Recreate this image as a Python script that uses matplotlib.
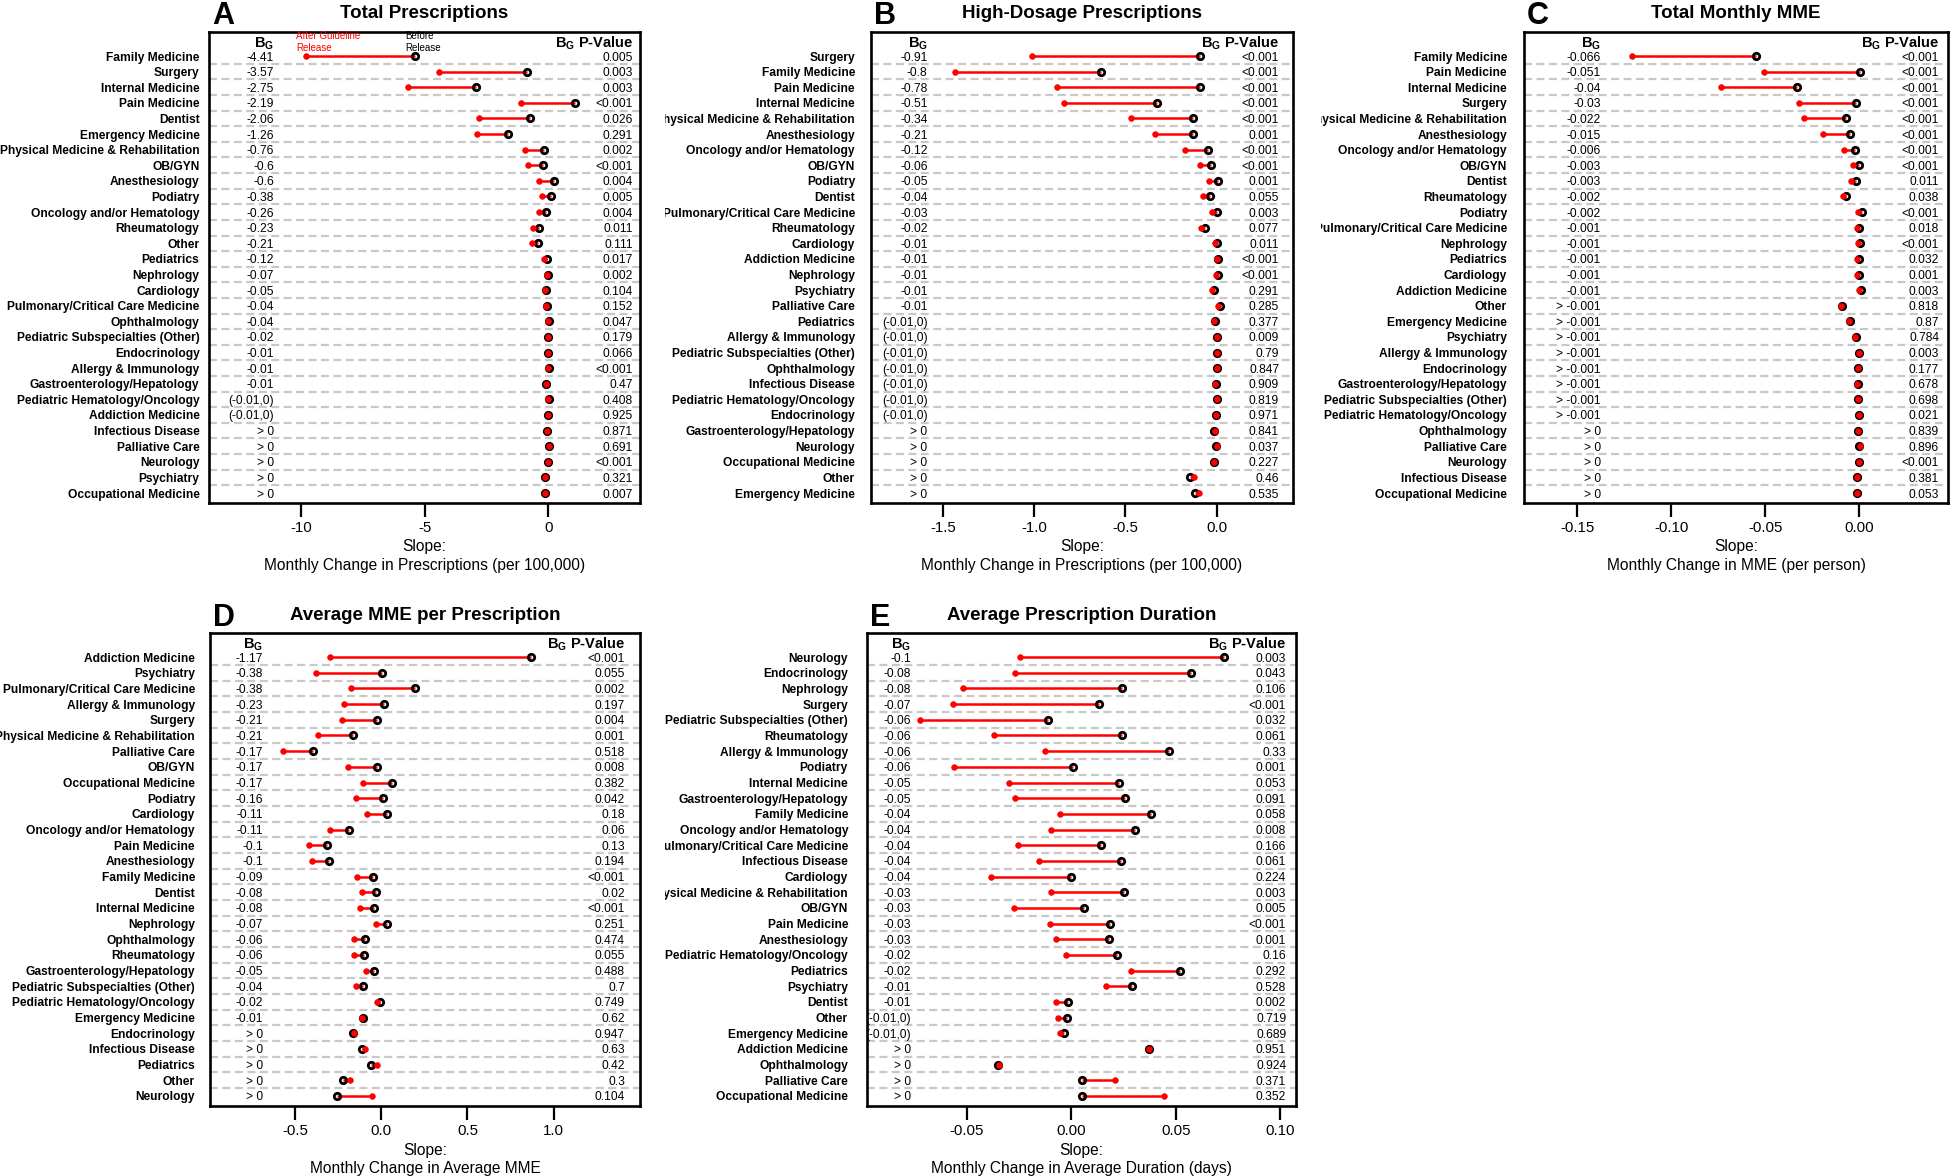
import numpy as np
import matplotlib
matplotlib.use("Agg")
import matplotlib.pyplot as plt
from matplotlib.transforms import Bbox, TransformedBbox, blended_transform_factory

plt.rcParams['font.family'] = ['Liberation Sans', 'DejaVu Sans']
plt.rcParams['axes.unicode_minus'] = False
plt.rcParams['mathtext.fontset'] = 'custom'
plt.rcParams['mathtext.rm'] = 'Liberation Sans'
plt.rcParams['mathtext.bf'] = 'Liberation Sans:bold'

W, H, DPI = 1952, 1176, 100
PX = 72.0 / DPI

# ---------------- Panel A: Total Prescriptions ----------------
cats_A = ["Family Medicine", "Surgery", "Internal Medicine", "Pain Medicine", "Dentist",
          "Emergency Medicine", "Physical Medicine & Rehabilitation", "OB/GYN", "Anesthesiology",
          "Podiatry", "Oncology and/or Hematology", "Rheumatology", "Other", "Pediatrics",
          "Nephrology", "Cardiology", "Pulmonary/Critical Care Medicine", "Ophthalmology",
          "Pediatric Subspecialties (Other)", "Endocrinology", "Allergy & Immunology",
          "Gastroenterology/Hepatology", "Pediatric Hematology/Oncology", "Addiction Medicine",
          "Infectious Disease", "Palliative Care", "Neurology", "Psychiatry", "Occupational Medicine"]
before_A = [-5.40, -0.86, -2.91, 1.09, -0.74, -1.63, -0.19, -0.22, 0.24, 0.12, -0.10, -0.40, -0.44,
            -0.07, 0.00, -0.10, -0.06, 0.01, -0.01, -0.02, 0.01, -0.09, 0.005, -0.025, -0.072,
            0.028, -0.002, -0.132, -0.132]
after_A = [-9.81, -4.43, -5.66, -1.10, -2.80, -2.89, -0.95, -0.82, -0.36, -0.26, -0.36, -0.63, -0.65,
           -0.19, -0.07, -0.15, -0.10, -0.03, -0.03, -0.03, 0.00, -0.10, 0.00, -0.03, -0.07,
           0.03, 0.00, -0.13, -0.13]
bg_A = ["-4.41", "-3.57", "-2.75", "-2.19", "-2.06", "-1.26", "-0.76", "-0.6", "-0.6", "-0.38",
        "-0.26", "-0.23", "-0.21", "-0.12", "-0.07", "-0.05", "-0.04", "-0.04", "-0.02", "-0.01",
        "-0.01", "-0.01", "(-0.01,0)", "(-0.01,0)", "> 0", "> 0", "> 0", "> 0", "> 0"]
p_A = ["0.005", "0.003", "0.003", "<0.001", "0.026", "0.291", "0.002", "<0.001", "0.004", "0.005",
       "0.004", "0.011", "0.111", "0.017", "0.002", "0.104", "0.152", "0.047", "0.179", "0.066",
       "<0.001", "0.47", "0.408", "0.925", "0.871", "0.691", "<0.001", "0.321", "0.007"]

# ---------------- Panel B: High-Dosage Prescriptions ----------------
cats_B = ["Surgery", "Family Medicine", "Pain Medicine", "Internal Medicine",
          "Physical Medicine & Rehabilitation", "Anesthesiology", "Oncology and/or Hematology",
          "OB/GYN", "Podiatry", "Dentist", "Pulmonary/Critical Care Medicine", "Rheumatology",
          "Cardiology", "Addiction Medicine", "Nephrology", "Psychiatry", "Palliative Care",
          "Pediatrics", "Allergy & Immunology", "Pediatric Subspecialties (Other)", "Ophthalmology",
          "Infectious Disease", "Pediatric Hematology/Oncology", "Endocrinology",
          "Gastroenterology/Hepatology", "Neurology", "Occupational Medicine", "Other",
          "Emergency Medicine"]
before_B = [-0.094, -0.632, -0.094, -0.329, -0.130, -0.130, -0.048, -0.032, 0.009, -0.037, 0.002,
            -0.065, 0.003, 0.010, 0.008, -0.017, 0.018, -0.010, 0.004, 0.004, 0.004, -0.006, 0.004,
            -0.001, -0.012, -0.001, -0.016, -0.146, -0.119]
after_B = [-1.009, -1.434, -0.872, -0.836, -0.468, -0.336, -0.174, -0.089, -0.041, -0.073, -0.023,
           -0.085, -0.007, 0.000, -0.002, -0.027, 0.008, -0.016, 0.000, 0.000, 0.000, -0.010, 0.000,
           -0.005, -0.010, 0.000, -0.014, -0.123, -0.096]
bg_B = ["-0.91", "-0.8", "-0.78", "-0.51", "-0.34", "-0.21", "-0.12", "-0.06", "-0.05", "-0.04",
        "-0.03", "-0.02", "-0.01", "-0.01", "-0.01", "-0.01", "-0.01", "(-0.01,0)", "(-0.01,0)",
        "(-0.01,0)", "(-0.01,0)", "(-0.01,0)", "(-0.01,0)", "(-0.01,0)", "> 0", "> 0", "> 0",
        "> 0", "> 0"]
p_B = ["<0.001", "<0.001", "<0.001", "<0.001", "<0.001", "0.001", "<0.001", "<0.001", "0.001",
       "0.055", "0.003", "0.077", "0.011", "<0.001", "<0.001", "0.291", "0.285", "0.377", "0.009",
       "0.79", "0.847", "0.909", "0.819", "0.971", "0.841", "0.037", "0.227", "0.46", "0.535"]

# ---------------- Panel C: Total Monthly MME ----------------
cats_C = ["Family Medicine", "Pain Medicine", "Internal Medicine", "Surgery",
          "Physical Medicine & Rehabilitation", "Anesthesiology", "Oncology and/or Hematology",
          "OB/GYN", "Dentist", "Rheumatology", "Podiatry", "Pulmonary/Critical Care Medicine",
          "Nephrology", "Pediatrics", "Cardiology", "Addiction Medicine", "Other",
          "Emergency Medicine", "Psychiatry", "Allergy & Immunology", "Endocrinology",
          "Gastroenterology/Hepatology", "Pediatric Subspecialties (Other)",
          "Pediatric Hematology/Oncology", "Ophthalmology", "Palliative Care", "Neurology",
          "Infectious Disease", "Occupational Medicine"]
before_C = [-0.0550, 0.0007, -0.0333, -0.0016, -0.0071, -0.0048, -0.0020, -0.0002, -0.0016,
            -0.0068, 0.0015, 0.0000, 0.0005, 0.0000, 0.0000, 0.0010, -0.0090, -0.0050, -0.0018,
            0.0000, -0.0003, -0.0008, -0.0003, 0.0002, -0.0005, 0.0002, -0.0002, -0.0012, -0.0012]
after_C = [-0.1212, -0.0505, -0.0737, -0.0320, -0.0295, -0.0190, -0.0082, -0.0032, -0.0041,
           -0.0087, -0.0005, -0.0010, -0.0005, -0.0010, -0.0010, 0.0000, -0.0094, -0.0053, -0.0020,
           -0.0002, -0.0005, -0.0010, -0.0005, 0.0000, -0.0005, 0.0003, -0.0002, -0.0011, -0.0011]
bg_C = ["-0.066", "-0.051", "-0.04", "-0.03", "-0.022", "-0.015", "-0.006", "-0.003", "-0.003",
        "-0.002", "-0.002", "-0.001", "-0.001", "-0.001", "-0.001", "-0.001", "> -0.001",
        "> -0.001", "> -0.001", "> -0.001", "> -0.001", "> -0.001", "> -0.001", "> -0.001",
        "> 0", "> 0", "> 0", "> 0", "> 0"]
p_C = ["<0.001", "<0.001", "<0.001", "<0.001", "<0.001", "<0.001", "<0.001", "<0.001", "0.011",
       "0.038", "<0.001", "0.018", "<0.001", "0.032", "0.001", "0.003", "0.818", "0.87", "0.784",
       "0.003", "0.177", "0.678", "0.698", "0.021", "0.839", "0.896", "<0.001", "0.381", "0.053"]

# ---------------- Panel D: Average MME per Prescription ----------------
cats_D = ["Addiction Medicine", "Psychiatry", "Pulmonary/Critical Care Medicine",
          "Allergy & Immunology", "Surgery", "Physical Medicine & Rehabilitation", "Palliative Care",
          "OB/GYN", "Occupational Medicine", "Podiatry", "Cardiology", "Oncology and/or Hematology",
          "Pain Medicine", "Anesthesiology", "Family Medicine", "Dentist", "Internal Medicine",
          "Nephrology", "Ophthalmology", "Rheumatology", "Gastroenterology/Hepatology",
          "Pediatric Subspecialties (Other)", "Pediatric Hematology/Oncology", "Emergency Medicine",
          "Endocrinology", "Infectious Disease", "Pediatrics", "Other", "Neurology"]
before_D = [0.871, 0.002, 0.198, 0.017, -0.022, -0.162, -0.399, -0.024, 0.063, 0.012, 0.031,
            -0.186, -0.317, -0.305, -0.046, -0.029, -0.041, 0.034, -0.097, -0.099, -0.041, -0.106,
            -0.005, -0.104, -0.162, -0.114, -0.060, -0.220, -0.254]
after_D = [-0.295, -0.377, -0.177, -0.215, -0.230, -0.370, -0.571, -0.191, -0.104, -0.145, -0.082,
           -0.295, -0.418, -0.404, -0.138, -0.111, -0.121, -0.031, -0.160, -0.157, -0.087, -0.145,
           -0.027, -0.109, -0.160, -0.092, -0.027, -0.184, -0.053]
bg_D = ["-1.17", "-0.38", "-0.38", "-0.23", "-0.21", "-0.21", "-0.17", "-0.17", "-0.17", "-0.16",
        "-0.11", "-0.11", "-0.1", "-0.1", "-0.09", "-0.08", "-0.08", "-0.07", "-0.06", "-0.06",
        "-0.05", "-0.04", "-0.02", "-0.01", "> 0", "> 0", "> 0", "> 0", "> 0"]
p_D = ["<0.001", "0.055", "0.002", "0.197", "0.004", "0.001", "0.518", "0.008", "0.382", "0.042",
       "0.18", "0.06", "0.13", "0.194", "<0.001", "0.02", "<0.001", "0.251", "0.474", "0.055",
       "0.488", "0.7", "0.749", "0.62", "0.947", "0.63", "0.42", "0.3", "0.104"]

# ---------------- Panel E: Average Prescription Duration ----------------
cats_E = ["Neurology", "Endocrinology", "Nephrology", "Surgery", "Pediatric Subspecialties (Other)",
          "Rheumatology", "Allergy & Immunology", "Podiatry", "Internal Medicine",
          "Gastroenterology/Hepatology", "Family Medicine", "Oncology and/or Hematology",
          "Pulmonary/Critical Care Medicine", "Infectious Disease", "Cardiology",
          "Physical Medicine & Rehabilitation", "OB/GYN", "Pain Medicine", "Anesthesiology",
          "Pediatric Hematology/Oncology", "Pediatrics", "Psychiatry", "Dentist", "Other",
          "Emergency Medicine", "Addiction Medicine", "Ophthalmology", "Palliative Care",
          "Occupational Medicine"]
before_E = [0.0729, 0.0573, 0.0244, 0.0130, -0.0114, 0.0244, 0.0469, 0.0008, 0.0228, 0.0254,
            0.0383, 0.0306, 0.0140, 0.0238, -0.0004, 0.0250, 0.0060, 0.0186, 0.0178, 0.0220,
            0.0521, 0.0288, -0.0018, -0.0022, -0.0034, 0.0370, -0.0354, 0.0048, 0.0052]
after_E = [-0.0246, -0.0270, -0.0519, -0.0565, -0.0727, -0.0371, -0.0126, -0.0563, -0.0300,
           -0.0270, -0.0054, -0.0100, -0.0258, -0.0156, -0.0387, -0.0098, -0.0274, -0.0104,
           -0.0074, -0.0024, 0.0284, 0.0164, -0.0074, -0.0064, -0.0056, 0.0373, -0.0348, 0.0210,
           0.0443]
bg_E = ["-0.1", "-0.08", "-0.08", "-0.07", "-0.06", "-0.06", "-0.06", "-0.06", "-0.05", "-0.05",
        "-0.04", "-0.04", "-0.04", "-0.04", "-0.04", "-0.03", "-0.03", "-0.03", "-0.03", "-0.02",
        "-0.02", "-0.01", "-0.01", "(-0.01,0)", "(-0.01,0)", "> 0", "> 0", "> 0", "> 0"]
p_E = ["0.003", "0.043", "0.106", "<0.001", "0.032", "0.061", "0.33", "0.001", "0.053", "0.091",
       "0.058", "0.008", "0.166", "0.061", "0.224", "0.003", "0.005", "<0.001", "0.001", "0.16",
       "0.292", "0.528", "0.002", "0.719", "0.689", "0.951", "0.924", "0.371", "0.352"]

ticks_A = [-10, -5, 0];                 ticklab_A = ["-10", "-5", "0"]
ticks_B = [-1.5, -1.0, -0.5, 0.0];      ticklab_B = ["-1.5", "-1.0", "-0.5", "0.0"]
ticks_C = [-0.15, -0.10, -0.05, 0.00];  ticklab_C = ["-0.15", "-0.10", "-0.05", "0.00"]
ticks_D = [-0.5, 0.0, 0.5, 1.0];        ticklab_D = ["-0.5", "0.0", "0.5", "1.0"]
ticks_E = [-0.05, 0.00, 0.05, 0.10];    ticklab_E = ["-0.05", "0.00", "0.05", "0.10"]

panels = [
    dict(letter="A", title="Total Prescriptions", cats=cats_A, before=before_A, after=after_A,
         bg=bg_A, p=p_A, xlim=(-13.71, 3.70), ticks=ticks_A, ticklab=ticklab_A,
         xlabel="Monthly Change in Prescriptions (per 100,000)", box=(209, 640, 32, 503),
         bgx=0.151, pvx=0.984, pad=9.5, clipx=0, legend=True, trow=17.5, lrow=24.5),
    dict(letter="B", title="High-Dosage Prescriptions", cats=cats_B, before=before_B, after=after_B,
         bg=bg_B, p=p_B, xlim=(-1.893, 0.418), ticks=ticks_B, ticklab=ticklab_B,
         xlabel="Monthly Change in Prescriptions (per 100,000)", box=(871, 1293, 32, 503),
         bgx=0.134, pvx=0.967, pad=16, clipx=665, legend=False, trow=17.5, lrow=24.5),
    dict(letter="C", title="Total Monthly MME", cats=cats_C, before=before_C, after=after_C,
         bg=bg_C, p=p_C, xlim=(-0.1785, 0.0474), ticks=ticks_C, ticklab=ticklab_C,
         xlabel="Monthly Change in MME (per person)", box=(1524, 1948, 32, 503),
         bgx=0.181, pvx=0.979, pad=17, clipx=1321, legend=False, trow=17.5, lrow=24.5),
    dict(letter="D", title="Average MME per Prescription", cats=cats_D, before=before_D,
         after=after_D, bg=bg_D, p=p_D, xlim=(-0.994, 1.502), ticks=ticks_D, ticklab=ticklab_D,
         xlabel="Monthly Change in Average MME", box=(210, 640, 633, 1106),
         bgx=0.124, pvx=0.965, pad=15, clipx=0, legend=False, trow=619.5, lrow=626.5),
    dict(letter="E", title="Average Prescription Duration", cats=cats_E, before=before_E,
         after=after_E, bg=bg_E, p=p_E, xlim=(-0.0979, 0.1075), ticks=ticks_E, ticklab=ticklab_E,
         xlabel="Monthly Change in Average Duration (days)", box=(867, 1296, 633, 1106),
         bgx=0.102, pvx=0.977, pad=19, clipx=665, legend=False, trow=619.5, lrow=626.5),
]

RED = "#ff0000"
fig = plt.figure(figsize=(W / DPI, H / DPI), dpi=DPI)
fig.patch.set_facecolor("white")

for cfg in panels:
    l, r, t, b = cfg["box"]
    ax = fig.add_axes([l / W, 1 - b / H, (r - l) / W, (b - t) / H])
    n = len(cfg["cats"])
    y = np.arange(n)
    before = np.array(cfg["before"])
    after = np.array(cfg["after"])
    ax.set_xlim(*cfg["xlim"])
    ax.set_ylim(n - 1 + 0.64, -1.54)

    for yy in y[:-1] + 0.5:
        ax.axhline(yy, color="#c8c8c8", lw=1.6, ls=(0, (3.6, 2.0)), zorder=1)

    for i in range(n):
        ax.plot([before[i], after[i]], [y[i], y[i]], color=RED, lw=1.8,
                solid_capstyle="butt", zorder=3)
    ax.plot(before, y, ls="none", marker="o", ms=4.6, mfc="none", mec="black", mew=2.0, zorder=4)
    ax.plot(after, y, ls="none", marker="o", ms=4.0, mfc=RED, mec=RED, mew=0.6, zorder=5)

    ax.set_xticks(cfg["ticks"], cfg["ticklab"])
    ax.set_yticks(y, cfg["cats"], fontweight="bold", fontsize=8.64)
    ax.tick_params(axis="y", length=0, pad=cfg["pad"] * PX)
    ax.tick_params(axis="x", direction="out", length=10, width=1.6, labelsize=10.8, pad=3)
    for s in ax.spines.values():
        s.set_linewidth(1.9)

    clipbox = TransformedBbox(Bbox([[cfg["clipx"] / W, 0], [1, 1]]), fig.transFigure)
    for lbl in ax.get_yticklabels():
        lbl.set_clip_box(clipbox)
        lbl.set_clip_on(True)

    tr = blended_transform_factory(ax.transAxes, ax.transData)
    for i in range(n):
        ax.text(cfg["bgx"], y[i], cfg["bg"][i], transform=tr, ha="right",
                va="center_baseline", fontsize=8.64, clip_on=True, zorder=6)
        ax.text(cfg["pvx"], y[i], cfg["p"][i], transform=tr, ha="right",
                va="center_baseline", fontsize=8.64, clip_on=True, zorder=6)
    ax.text(cfg["bgx"], -0.55, r"$\mathbf{B_G}$", transform=tr, ha="right", va="baseline",
            fontsize=10.5, zorder=6)
    ax.text(cfg["pvx"], -0.55, r"$\mathbf{B_G}$ P-Value", transform=tr, ha="right",
            va="baseline", fontsize=10.5, fontweight="bold", zorder=6)

    if cfg["legend"]:
        ax.text(after[0] - 0.37, -0.9, "After Guideline\nRelease", color=RED, fontsize=7,
                ha="left", va="center", linespacing=1.15, zorder=6)
        ax.text(before[0] - 0.37, -0.9, "Before\nRelease", color="black", fontsize=7,
                ha="left", va="center", linespacing=1.15, zorder=6)

    hb = b - t
    ax.text(0.5, -44.0 / hb, "Slope:", transform=ax.transAxes, ha="center", va="center",
            fontsize=11.2)
    ax.text(0.5, -62.5 / hb, cfg["xlabel"], transform=ax.transAxes, ha="center", va="center",
            fontsize=11.2)

    fig.text((l + r) / 2 / W, 1 - cfg["trow"] / H, cfg["title"], ha="center", va="baseline",
             fontsize=13.5, fontweight="bold")
    fig.text((l + 3) / W, 1 - cfg["lrow"] / H, cfg["letter"], ha="left", va="baseline",
             fontsize=22, fontweight="bold")

fig.savefig("out.png", dpi=DPI, facecolor="white")
